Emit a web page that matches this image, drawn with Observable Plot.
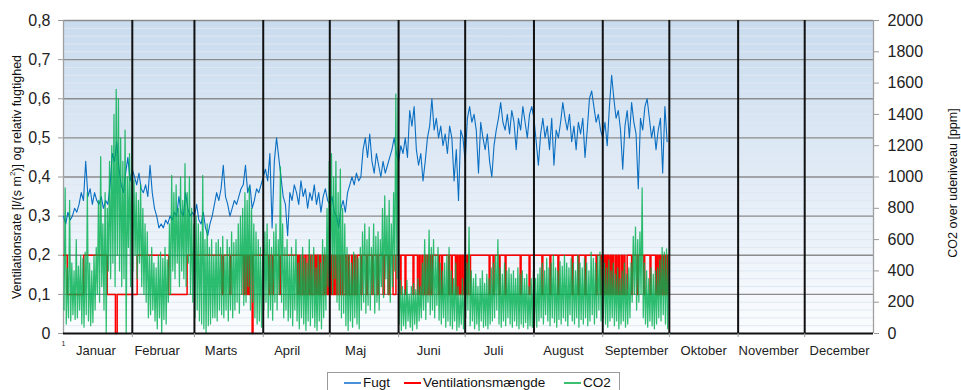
<!DOCTYPE html>
<html><head><meta charset="utf-8">
<script src="https://cdn.jsdelivr.net/npm/d3@7"></script>
<script src="https://cdn.jsdelivr.net/npm/@observablehq/plot@0.6"></script>
<style>
body{margin:0;background:#fff;font-family:"Liberation Sans",Arial,sans-serif;}
#wrap{position:relative;width:961px;height:390px;overflow:hidden;}
#wrap svg{display:block;}
#legend{position:absolute;left:327px;top:372px;width:293px;height:26px;border:1px solid #9a9a9a;box-sizing:border-box;font-size:13.5px;color:#111;background:#fff;}
#legend .s{position:absolute;top:9px;height:2px;width:17px;}
#legend .t{position:absolute;top:3px;line-height:13px;white-space:nowrap;}
.ttl{position:absolute;font-size:12.5px;white-space:nowrap;color:#111;transform:translate(-50%,-50%) rotate(-90deg);}
</style></head><body><div id="wrap"></div>
<script>
// ---- data ----
const months = ["Januar","Februar","Marts","April","Maj","Juni","Juli","August","September","Oktober","November","December"];
const monthDays = [31,28,31,30,31,30,31,31,30,31,30,31];
const labelDays = [14.6,42.2,71.0,100.8,131.6,164.6,193.8,225.3,258.2,288.5,317.7,349.7];
const leftTicks = [0,0.1,0.2,0.3,0.4,0.5,0.6,0.7,0.8];
const rightTicks = [0,200,400,600,800,1000,1200,1400,1600,1800,2000];

// Fugt (relative humidity), one value per day, Jan 1 .. Sep 30
const fugt = [
0.30,0.28,0.31,0.29,0.30,0.32,0.31,0.33,0.36,0.34,0.44,0.35,0.37,0.33,0.36,0.34,0.33,0.35,0.32,0.34,0.33,0.38,0.46,0.44,0.49,0.42,0.38,0.36,0.41,0.45,0.39,
0.42,0.40,0.38,0.41,0.37,0.36,0.38,0.35,0.43,0.36,0.32,0.30,0.27,0.28,0.27,0.29,0.28,0.30,0.29,0.31,0.30,0.35,0.31,0.30,0.36,0.32,0.30,0.31,
0.30,0.33,0.29,0.28,0.31,0.27,0.25,0.28,0.30,0.33,0.36,0.34,0.37,0.43,0.35,0.33,0.30,0.32,0.34,0.33,0.35,0.37,0.38,0.43,0.36,0.38,0.32,0.34,0.37,0.36,0.38,
0.40,0.42,0.39,0.46,0.27,0.44,0.50,0.45,0.40,0.35,0.33,0.25,0.36,0.34,0.38,0.36,0.33,0.39,0.35,0.37,0.32,0.36,0.34,0.38,0.33,0.36,0.31,0.35,0.37,0.34,
0.33,0.35,0.31,0.30,0.27,0.32,0.34,0.31,0.36,0.38,0.40,0.38,0.41,0.39,0.40,0.47,0.50,0.45,0.51,0.44,0.41,0.46,0.43,0.40,0.44,0.41,0.43,0.45,0.47,0.50,0.46,
0.44,0.48,0.46,0.50,0.45,0.57,0.53,0.58,0.47,0.43,0.46,0.39,0.44,0.50,0.53,0.60,0.52,0.55,0.50,0.53,0.48,0.51,0.46,0.53,0.50,0.39,0.47,0.34,0.52,0.50,
0.44,0.55,0.58,0.54,0.56,0.52,0.41,0.54,0.50,0.47,0.51,0.44,0.40,0.48,0.52,0.55,0.59,0.54,0.52,0.56,0.51,0.57,0.54,0.47,0.55,0.52,0.58,0.54,0.50,0.56,0.58,
0.55,0.49,0.43,0.51,0.55,0.50,0.53,0.47,0.55,0.43,0.52,0.50,0.54,0.59,0.55,0.52,0.56,0.49,0.53,0.47,0.54,0.51,0.55,0.45,0.52,0.60,0.62,0.58,0.54,0.56,0.52,
0.50,0.54,0.48,0.58,0.66,0.60,0.55,0.57,0.52,0.42,0.53,0.57,0.50,0.59,0.54,0.51,0.37,0.55,0.52,0.58,0.60,0.55,0.50,0.53,0.47,0.52,0.55,0.41,0.58,0.49
];

// CO2 over outdoor level [ppm]: daily low and daily high
const co2Low = [
150,60,100,80,120,90,100,150,60,40,120,80,50,70,150,250,200,300,150,0,400,350,450,300,500,400,300,350,0,550,300,
400,500,350,450,300,250,200,100,120,150,80,30,100,0,90,60,200,250,400,350,450,300,400,350,300,450,250,200,
100,150,80,60,30,0,50,60,100,100,80,150,120,100,150,80,150,100,150,200,130,250,180,200,300,150,200,100,60,80,40,
150,200,100,150,85,200,150,250,200,100,150,80,100,50,150,80,30,100,60,20,80,50,100,40,20,80,30,100,150,300,
400,250,350,200,150,100,130,50,20,80,40,100,60,30,150,200,130,180,150,250,130,200,150,300,230,350,250,200,300,400,350,
60,20,50,30,80,40,20,60,30,80,100,150,90,200,120,150,100,180,85,60,100,40,80,50,30,80,20,40,60,30,
100,150,50,80,30,60,20,80,40,50,30,60,80,100,150,60,40,80,50,100,60,40,80,50,30,60,40,70,30,50,40,
60,40,80,100,60,120,80,50,100,70,40,90,60,100,80,50,120,80,60,100,40,90,60,100,50,80,120,60,100,150,80,
100,60,40,80,100,50,80,30,60,80,40,60,100,200,250,150,200,250,100,60,40,80,50,30,60,100,80,120,60,30
];
const co2High = [
930,420,850,450,400,600,430,500,480,520,900,450,400,500,550,850,1130,700,900,800,1100,1200,1400,1560,1500,1250,1100,1300,1000,1150,1250,
980,900,850,950,800,700,650,500,550,450,420,500,520,480,550,470,700,1010,900,950,800,1000,850,1085,900,1000,800,700,
750,700,650,1010,600,700,550,600,500,580,600,550,620,500,600,550,650,580,600,700,750,800,900,850,935,800,700,650,600,550,500,
650,700,600,550,650,700,600,1065,700,550,600,500,550,500,600,450,500,550,480,450,600,500,550,420,500,450,600,550,800,1100,
1150,1000,1100,900,1050,800,700,550,500,450,520,500,480,550,650,700,600,680,550,700,620,650,600,800,880,750,850,700,900,1530,1500,
340,300,280,340,250,300,320,280,350,300,450,600,500,660,550,600,500,550,450,400,450,500,550,400,350,450,300,250,350,300,
450,680,400,350,380,300,350,400,320,380,350,420,450,500,600,420,380,450,400,420,380,400,350,420,380,400,350,380,300,350,400,
350,380,420,450,400,480,420,450,500,420,400,460,430,500,450,420,480,450,400,500,450,420,480,450,400,520,480,450,500,520,470,
450,420,470,400,450,380,420,350,400,450,380,420,450,620,680,600,650,930,450,400,350,420,380,400,420,470,550,520,540,500
];

// Ventilationsmængde: [day, level] change points (step)
const vent = [
[0,0.2],[1.7,0.1],[9.1,0.2],[19.7,0.1],[23.4,0],[24.2,0.1],[33.2,0.2],[47.4,0.1],[55.7,0.2],
[71.4,0.1],[72.0,0.2],[75.0,0.1],[75.4,0.2],[81.0,0.1],[81.6,0.2],[82.3,0.1],[82.8,0.2],[83.4,0.1],[84.0,0.2],[85.0,0],[85.4,0.2],
[92.5,0.1],[93.0,0.2],[94.0,0.1],[94.5,0.2],[97.3,0.1],[97.7,0.2],
[105.4,0.1],[106.0,0.2],[106.6,0.1],[107.5,0.2],[108.0,0.1],[108.8,0.2],[109.3,0.1],[110.2,0.2],[110.8,0.1],[111.5,0.2],[112.0,0.1],[113.0,0.2],
[113.6,0.1],[114.2,0.2],[114.9,0.1],[115.5,0.2],[116.0,0.1],[117.0,0.2],[117.5,0.1],[118.2,0.2],[118.8,0.1],[119.5,0.2],[120.0,0.1],[120.6,0.2],
[121.0,0.1],[121.8,0.2],[122.3,0.1],[123.0,0.2],[123.4,0.1],[124.2,0.2],[124.7,0.1],[125.5,0.2],[126.0,0.1],[127.0,0.2],[127.5,0.1],[128.3,0.2],
[128.8,0.1],[129.8,0.2],[130.3,0.1],[131.2,0.2],[131.7,0.1],[132.5,0.2],
[134.0,0.1],[134.5,0.2],[136.5,0.1],[137.0,0.2],[139.0,0.1],[139.5,0.2],[141.3,0.1],[142.0,0.2],[144.0,0.1],[144.6,0.2],[146.3,0.1],[147.0,0.2],[148.5,0.1],[149.8,0.2],
[151.7,0.1],[152.1,0.2],[153.9,0.1],[154.3,0.2],[157.5,0.1],[157.9,0.2],
[159.5,0.1],[160.2,0.2],[160.7,0.1],[161.5,0.2],[162.0,0.1],[162.8,0.2],[163.2,0.1],[164.0,0.2],[164.5,0.1],[165.2,0.2],[165.7,0.1],[166.3,0.2],
[169.0,0.1],[169.4,0.2],[170.3,0.1],[170.8,0.2],[173.5,0.1],[173.9,0.2],[174.8,0.1],[175.2,0.2],
[176.6,0.1],[177.2,0.2],[177.7,0.1],[178.4,0.2],[178.9,0.1],[179.6,0.2],[180.1,0.1],[180.8,0.2],[181.3,0.1],[182.0,0.2],[182.5,0.1],[183.4,0.2],
[191.8,0.1],[192.2,0.2],[193.6,0.1],[194.0,0.2],[196.3,0.1],[196.7,0.2],[199.0,0.1],[199.4,0.2],[205.8,0.1],[206.2,0.2],[209.8,0.1],[210.2,0.2],
[215.6,0.1],[216.0,0.2],[219.2,0.1],[219.6,0.2],[222.8,0.1],[223.2,0.2],[229.2,0.1],[229.6,0.2],[231.9,0.1],[232.3,0.2],[235.0,0.1],[235.4,0.2],[240.0,0.1],[240.4,0.2],
[242.0,0.1],[242.6,0.2],[243.2,0.1],[243.9,0.2],[244.4,0.1],[245.0,0.2],[245.6,0.1],[246.3,0.2],[246.8,0.1],[247.4,0.2],[248.0,0.1],[248.8,0.2],
[249.3,0.1],[250.0,0.2],[250.5,0.1],[251.3,0.2],[251.8,0.1],[252.5,0.2],[253.0,0.1],[254.0,0.2],
[256.0,0.1],[256.4,0.2],[258.5,0.1],[258.9,0.2],[261.5,0.1],[261.9,0.2],[264.3,0.1],[264.7,0.2],
[266.8,0.1],[267.4,0.2],[267.9,0.1],[268.6,0.2],[269.1,0.1],[269.8,0.2],[270.3,0.1],[271.0,0.2],[271.5,0.1],[272.2,0.2],[272.7,0.2]
];

// ---- build tables ----
const fugtData = fugt.map((v, i) => ({day: i, v}));
const co2Data = co2Low.flatMap((lo, i) => [{day: i + 0.25, ppm: lo}, {day: i + 0.75, ppm: co2High[i]}]);
const ventData = vent.map(([day, v]) => ({day, v}));
const bounds = d3.cumsum(monthDays);
const yearLen = bounds[bounds.length - 1];
const stripes = d3.range(0.02, 0.8, 0.02);

const plot = Plot.plot({
  width: 961, height: 365,
  marginLeft: 63, marginRight: 88, marginTop: 20, marginBottom: 32,
  style: {fontFamily: "'Liberation Sans', Arial, sans-serif", fontSize: "16px", color: "#222", background: "transparent", overflow: "visible"},
  x: {domain: [0, yearLen]},
  y: {domain: [0, 0.8]},
  marks: [
    Plot.frame({fill: "url(#bgGrad)", stroke: null}),
    Plot.ruleY(stripes, {stroke: "#dfe8f2", strokeWidth: 1}),
    Plot.ruleY(leftTicks.slice(1), {stroke: "#8c8c8c", strokeWidth: 1.3}),
    Plot.ruleX([0, yearLen], {stroke: "#a0a0a0", strokeWidth: 1.3}),
    Plot.line(fugtData, {x: "day", y: "v", stroke: "#0a6fc2", strokeWidth: 1.1}),
    Plot.line(ventData, {x: "day", y: "v", stroke: "#ff0000", strokeWidth: 1.5, curve: "step-after"}),
    Plot.line(co2Data, {x: "day", y: d => d.ppm / 2500, stroke: "#00b050", strokeWidth: 1.25, strokeOpacity: 0.82}),
    Plot.ruleX(bounds.slice(0, -1), {stroke: "#111", strokeWidth: 2}),
    Plot.ruleY([0], {stroke: "#111", strokeWidth: 2}),
    Plot.axisY({ticks: leftTicks, tickFormat: d => String(+d.toFixed(1)).replace(".", ","), tickSize: 5, tickPadding: 8, label: null, stroke: "#999", fill: "#222"}),
    Plot.axisY({anchor: "right", ticks: rightTicks.map(p => p / 2500), tickFormat: d => String(Math.round(d * 2500)), tickSize: 5, tickPadding: 9, label: null, stroke: "#999", fill: "#222"}),
    Plot.axisX({ticks: labelDays, tickFormat: d => months[labelDays.indexOf(d)], tickSize: 0, tickPadding: 12, fontSize: 13, label: null, fill: "#222"}),
    Plot.axisX({ticks: bounds.slice(0, -1), tickFormat: () => "", tickSize: 4, label: null, stroke: "#999"}),
    Plot.axisX({ticks: [0], tickFormat: () => "1", tickSize: 0, tickPadding: 8, fontSize: 7, label: null, fill: "#222"})
  ]
});

const ns = "http://www.w3.org/2000/svg";
const defs = document.createElementNS(ns, "defs");
defs.innerHTML = '<linearGradient id="bgGrad" x1="0" y1="0" x2="0" y2="1"><stop offset="0" stop-color="#c9dbee"/><stop offset="0.55" stop-color="#e4edf7"/><stop offset="1" stop-color="#fbfdff"/></linearGradient>';
plot.insertBefore(defs, plot.firstChild);

const wrap = document.getElementById("wrap");
wrap.appendChild(plot);

const lt = document.createElement("div");
lt.className = "ttl";
lt.style.left = "16px"; lt.style.top = "177px";
lt.innerHTML = 'Ventilationsrate [l/(s m<sup style="font-size:8px">2</sup>)] og relativ fugtighed';
wrap.appendChild(lt);

const rt = document.createElement("div");
rt.className = "ttl";
rt.style.left = "953px"; rt.style.top = "183px";
rt.textContent = "CO2 over udeniveau [ppm]";
wrap.appendChild(rt);

const legendItems = [["Fugt", "#4a90d9", 16, 35], ["Ventilationsmængde", "#ff0000", 76, 95], ["CO2", "#3cc06e", 236, 255]];
const lg = document.createElement("div");
lg.id = "legend";
for (const [name, color, sx, tx] of legendItems) {
  const s = document.createElement("div");
  s.className = "s"; s.style.left = sx + "px"; s.style.background = color;
  const t = document.createElement("div");
  t.className = "t"; t.style.left = tx + "px"; t.textContent = name;
  lg.appendChild(s); lg.appendChild(t);
}
wrap.appendChild(lg);
</script>
</body></html>
